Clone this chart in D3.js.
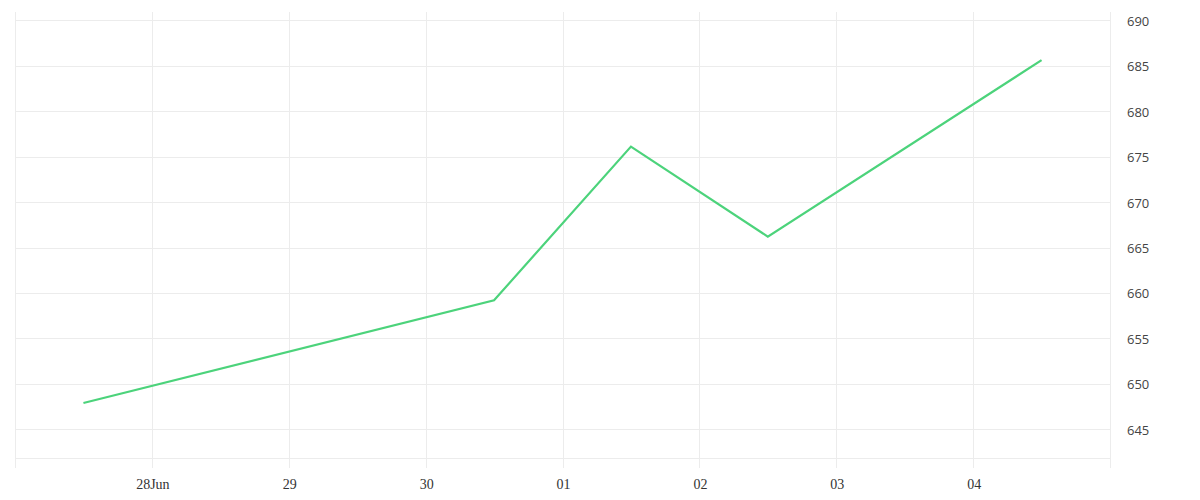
<!DOCTYPE html>
<html>
<head>
<meta charset="utf-8">
<script src="https://cdn.jsdelivr.net/npm/d3@7"></script>
<style>
  body { margin: 0; background: #fff; }
</style>
</head>
<body>
<svg></svg>
<script>
// price series (noon of each day)
var DATES = ["2020-06-27T12:00", "2020-06-30T12:00", "2020-07-01T12:00", "2020-07-02T12:00", "2020-07-04T12:00"];
var VALUES = [647.9, 659.2, 676.1, 666.2, 685.6];

// axis ticks
var X_TICK_DATES = ["2020-06-27", "2020-06-28", "2020-06-29", "2020-06-30", "2020-07-01", "2020-07-02", "2020-07-03", "2020-07-04", "2020-07-05"];
var X_TICK_LABELS = ["", "28Jun", "29", "30", "01", "02", "03", "04", ""];
var Y_TICKS = [645, 650, 655, 660, 665, 670, 675, 680, 685, 690];
var Y_FLOOR = 641.8;

var parseTime = d3.timeParse("%Y-%m-%dT%H:%M");
var parseDay = d3.timeParse("%Y-%m-%d");

var data = DATES.map(function(d, i) {
    return { date: parseTime(d), value: VALUES[i] };
});
var xTicks = X_TICK_DATES.map(function(d) { return parseDay(d); });

var svgWidth = 1200, svgHeight = 500;
var svg = d3.select("svg")
    .attr("width", svgWidth)
    .attr("height", svgHeight);

var x = d3.scaleTime()
    .domain([xTicks[0], xTicks[xTicks.length - 1]])
    .range([15, 1110]);

var y = d3.scaleLinear()
    .domain([640.75, 690.9])
    .range([468, 12]);

var gridColor = "#ececec";

// vertical grid lines
svg.append("g")
    .selectAll("line")
    .data(xTicks)
    .join("line")
    .attr("x1", function(d) { return Math.round(x(d)) + 0.5; })
    .attr("x2", function(d) { return Math.round(x(d)) + 0.5; })
    .attr("y1", y.range()[1])
    .attr("y2", y.range()[0])
    .attr("stroke", gridColor)
    .attr("stroke-width", 1);

// horizontal grid lines
svg.append("g")
    .selectAll("line")
    .data(Y_TICKS.concat([Y_FLOOR]))
    .join("line")
    .attr("x1", x.range()[0])
    .attr("x2", x.range()[1])
    .attr("y1", function(d) { return Math.round(y(d)) + 0.5; })
    .attr("y2", function(d) { return Math.round(y(d)) + 0.5; })
    .attr("stroke", gridColor)
    .attr("stroke-width", 1);

// x tick labels
svg.append("g")
    .selectAll("text")
    .data(xTicks)
    .join("text")
    .attr("x", function(d) { return x(d) + 1; })
    .attr("y", 489)
    .attr("text-anchor", "middle")
    .attr("font-family", "'Liberation Serif', serif")
    .attr("font-size", 14)
    .attr("fill", "#333")
    .text(function(d, i) { return X_TICK_LABELS[i]; });

// y tick labels on the right
svg.append("g")
    .selectAll("text")
    .data(Y_TICKS)
    .join("text")
    .attr("x", 1127)
    .attr("y", function(d) { return y(d) + 2; })
    .attr("dominant-baseline", "middle")
    .attr("font-family", "'Open Sans', sans-serif")
    .attr("font-size", 13)
    .attr("fill", "#444")
    .text(function(d) { return d; });

// price line
var price_line = d3.line()
    .x(function(d) { return x(d.date); })
    .y(function(d) { return y(d.value); });

svg.append("path")
    .datum(data)
    .attr("fill", "none")
    .attr("stroke", "#4cd37b")
    .attr("stroke-width", 2.2)
    .attr("stroke-linejoin", "miter")
    .attr("d", price_line);
</script>
</body>
</html>
